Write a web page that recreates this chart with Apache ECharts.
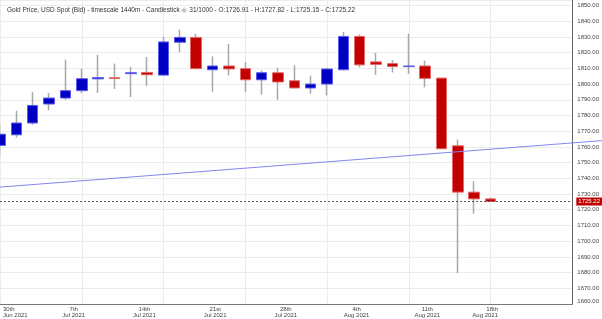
<!DOCTYPE html>
<html><head><meta charset="utf-8">
<script src="https://cdn.jsdelivr.net/npm/echarts@6/dist/echarts.min.js"></script>
<style>html,body{margin:0;padding:0;background:#fff}#c{width:602px;height:319px}</style>
</head><body><div id="c"></div>
<script>
const categories = ['30 Jun','1 Jul','2 Jul','5 Jul','6 Jul','7 Jul','8 Jul','9 Jul','12 Jul','13 Jul','14 Jul','15 Jul','16 Jul','19 Jul','20 Jul','21 Jul','22 Jul','23 Jul','26 Jul','27 Jul','28 Jul','29 Jul','30 Jul','2 Aug','3 Aug','4 Aug','5 Aug','6 Aug','9 Aug','10 Aug','11 Aug','12 Aug','13 Aug','16 Aug','17 Aug','18 Aug'];
const opens  = [1760.9,1767.7,1775.2,1787.3,1791.1,1795.8,1803.3,1804.1,1806.6,1807.4,1805.7,1826.6,1829.7,1809.1,1811.5,1809.8,1802.7,1807.2,1802.1,1797.5,1800.0,1809.1,1830.3,1814.1,1813.0,1811.1,1811.5,1803.8,1760.7,1731.2,1726.91];
const closes = [1768.1,1775.2,1786.4,1791.1,1795.8,1803.4,1804.1,1803.5,1807.2,1805.9,1826.8,1829.7,1809.8,1811.5,1809.6,1802.7,1807.2,1801.3,1797.5,1800.0,1809.6,1830.3,1812.2,1812.5,1811.1,1811.5,1803.6,1758.8,1731.2,1726.9,1725.22];
const lows   = [1753.3,1766.0,1774.1,1783.3,1790.0,1794.3,1794.3,1796.9,1791.7,1798.9,1805.3,1820.4,1809.3,1795.1,1805.5,1795.0,1793.2,1790.0,1797.4,1793.9,1792.8,1808.8,1810.6,1805.9,1807.4,1806.6,1797.9,1758.6,1679.7,1717.5,1725.15];
const highs  = [1774.5,1783.0,1795.0,1794.3,1815.5,1809.8,1818.7,1813.0,1810.9,1817.2,1830.1,1834.6,1832.0,1817.6,1825.5,1814.0,1808.7,1810.4,1811.9,1805.3,1810.3,1833.1,1831.6,1819.8,1815.1,1832.0,1814.9,1803.9,1764.6,1738.1,1727.82];
const dateLabels = ['30th\nJun 2021','7th\nJul 2021','14th\nJul 2021','21st\nJul 2021','28th\nJul 2021','4th\nAug 2021','11th\nAug 2021','18th\nAug 2021'];
const trendX = [0, 36.8];
const trendY = [1734.4, 1764.0];

const last = opens.length - 1;
const lastPrice = closes[last];
const wickData = opens.map((o, i) => [o, closes[i], lows[i], highs[i]]);
const bodyData = opens.map((o, i) => [o, closes[i], Math.min(o, closes[i]), Math.max(o, closes[i])]);
const fmt = v => v.toFixed(2);
const titleText = 'Gold Price, USD Spot (Bid) - timescale 1440m - Candlestick {e|◉} ' +
  (last + 1) + '/1000 - O:' + fmt(opens[last]) + ' - H:' + fmt(highs[last]) +
  ' - L:' + fmt(lows[last]) + ' - C:' + fmt(closes[last]);

const chart = echarts.init(document.getElementById('c'), null, {renderer: 'canvas'});
chart.setOption({
  animation: false,
  backgroundColor: '#fff',
  title: {
    text: titleText, left: 2, top: 2,
    textStyle: {fontSize: 6.5, fontWeight: 'normal', color: '#333', fontFamily: 'Liberation Sans, Arial',
      rich: {e: {fontSize: 6.5, color: '#bbb'}}}
  },
  grid: [
    {left: 0, top: 0, width: 573, height: 304},
    {left: 0, top: 0, width: 498, height: 304},
    {left: 0, top: 0, width: 602, height: 304}
  ],
  xAxis: [
    {type: 'category', gridIndex: 0, data: categories, boundaryGap: false,
      axisLine: {show: true, lineStyle: {color: '#777', width: 1}},
      axisTick: {show: false}, axisLabel: {show: false},
      splitLine: {show: true, interval: 4, lineStyle: {color: '#ececec', width: 1}}},
    {type: 'value', gridIndex: 1, min: 0, max: 49, interval: 7, position: 'bottom',
      axisLine: {show: false}, axisTick: {show: false}, splitLine: {show: false},
      axisLabel: {show: true, margin: 2, fontSize: 6, lineHeight: 6.5, color: '#444', fontFamily: 'Liberation Sans, Arial',
        alignMinLabel: 'left', alignMaxLabel: 'right',
        formatter: v => dateLabels[Math.round(v / 7)] || ''}},
    {type: 'value', gridIndex: 2, min: 0, max: 36.8, show: false}
  ],
  yAxis: [
    {type: 'value', gridIndex: 0, position: 'right', min: 1660, max: 1853.5, interval: 10, scale: true,
      axisLine: {show: true, lineStyle: {color: '#666', width: 1}},
      axisTick: {show: false},
      splitLine: {show: true, lineStyle: {color: '#ececec', width: 1}},
      axisLabel: {show: true, margin: 5, fontSize: 6, color: '#444', fontFamily: 'Liberation Sans, Arial',
        showMaxLabel: false, verticalAlignMinLabel: 'bottom', formatter: v => v.toFixed(2)}},
    {type: 'value', gridIndex: 1, min: 0, max: 1, show: false},
    {type: 'value', gridIndex: 2, min: 1660, max: 1853.5, show: false}
  ],
  series: [
    {type: 'candlestick', name: 'wick', xAxisIndex: 0, yAxisIndex: 0, data: wickData, barWidth: 1,
      itemStyle: {color: '#a3aaaa', color0: '#a3aaaa', borderColor: '#a3aaaa', borderColor0: '#a3aaaa', borderWidth: 1.5},
      z: 2},
    {type: 'candlestick', name: 'body', xAxisIndex: 0, yAxisIndex: 0, data: bodyData, barWidth: 11,
      itemStyle: {color: '#0000c2', color0: '#c20000', borderColor: '#5c5cee', borderColor0: '#e46a6a', borderWidth: 1},
      markLine: {silent: true, symbol: ['none', 'none'],
        lineStyle: {color: '#555', type: [2, 2], width: 1},
        label: {show: true, position: 'end', distance: 4, formatter: p => fmt(p.value),
          backgroundColor: '#c00000', color: '#fff', fontSize: 6, padding: [1, 2, 1, 2], fontFamily: 'Liberation Sans, Arial'},
        data: [{yAxis: lastPrice}]},
      z: 3},
    {type: 'line', name: 'trend', xAxisIndex: 2, yAxisIndex: 2, symbol: 'none',
      data: trendX.map((x, i) => [x, trendY[i]]),
      lineStyle: {color: '#8484f4', width: 1}, z: 5}
  ]
});
</script></body></html>
